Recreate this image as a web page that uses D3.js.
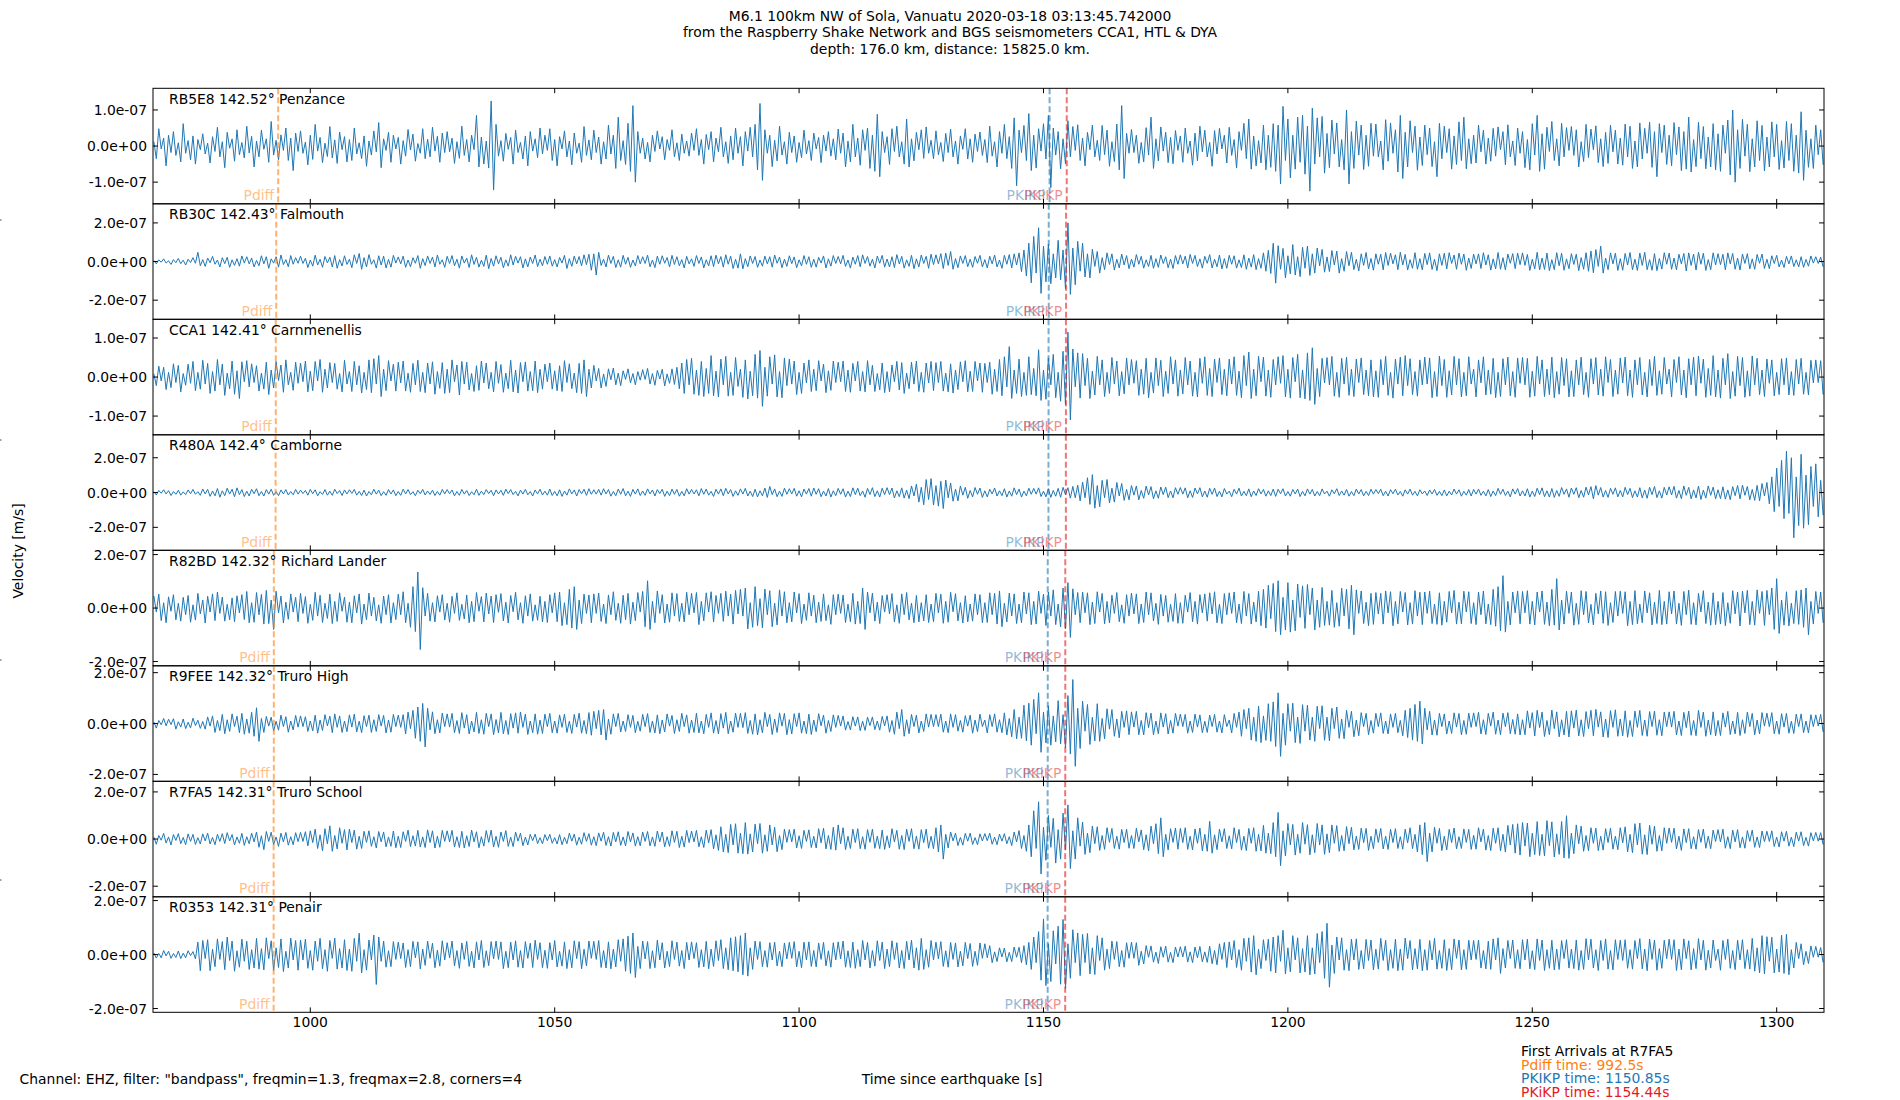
<!DOCTYPE html>
<html lang="en">
<head>
  <meta charset="utf-8">
  <title>M6.1 100km NW of Sola, Vanuatu - Raspberry Shake section</title>
  <script src="https://d3js.org/d3.v7.min.js"></script>
  <style>
    body { margin: 0; background: #fff; }
    #chart text { font-family: "DejaVu Sans", sans-serif; font-size: 13.9px; }
  </style>
</head>
<body>
<div id="chart"></div>
<script>
"use strict";

// ---- data ----
var titleLines = [
  "M6.1 100km NW of Sola, Vanuatu 2020-03-18 03:13:45.742000",
  "from the Raspberry Shake Network and BGS seismometers CCA1, HTL & DYA",
  "depth: 176.0 km, distance: 15825.0 km."
];
var stations  = ["RB5E8", "RB30C", "CCA1", "R480A", "R82BD", "R9FEE", "R7FA5", "R0353"];
var distances = ["142.52", "142.43", "142.41", "142.4", "142.32", "142.32", "142.31", "142.31"];
var places    = ["Penzance", "Falmouth", "Carnmenellis", "Camborne", "Richard Lander", "Truro High", "Truro School", "Penair"];

// half-height of each panel's y range (m/s)
var yLimits = [1.6e-7, 2.99e-7, 1.48e-7, 3.32e-7, 2.16e-7, 2.27e-7, 2.45e-7, 2.14e-7];
var yTickValues = [
  [-1e-7, 0, 1e-7], [-2e-7, 0, 2e-7], [-1e-7, 0, 1e-7], [-2e-7, 0, 2e-7],
  [-2e-7, 0, 2e-7], [-2e-7, 0, 2e-7], [-2e-7, 0, 2e-7], [-2e-7, 0, 2e-7]
];
var yTickLabels = [
  ["-1.0e-07", "0.0e+00", "1.0e-07"], ["-2.0e-07", "0.0e+00", "2.0e-07"],
  ["-1.0e-07", "0.0e+00", "1.0e-07"], ["-2.0e-07", "0.0e+00", "2.0e-07"],
  ["-2.0e-07", "0.0e+00", "2.0e-07"], ["-2.0e-07", "0.0e+00", "2.0e-07"],
  ["-2.0e-07", "0.0e+00", "2.0e-07"], ["-2.0e-07", "0.0e+00", "2.0e-07"]
];
var xLimits = [967.82, 1309.68];
var xTickValues = [1000, 1050, 1100, 1150, 1200, 1250, 1300];

// arrival times (s) per station
var pdiffTimes = [993.43, 993.03, 992.94, 992.90, 992.54, 992.54, 992.50, 992.50];
var pkikpTimes = [1151.25, 1151.08, 1151.04, 1151.02, 1150.87, 1150.87, 1150.85, 1150.85];
var pkikpReflTimes = [1154.76, 1154.62, 1154.59, 1154.58, 1154.46, 1154.46, 1154.44, 1154.44];

var arrivalNotes = ["First Arrivals at R7FA5", "Pdiff time: 992.5s", "PKIKP time: 1150.85s", "PKiKP time: 1154.44s"];
var footNote = 'Channel: EHZ, filter: "bandpass", freqmin=1.3, freqmax=2.8, corners=4';

// traces: one value every 0.5 s from 968.0 s, in nm/s
var tStart = 968.0, tStep = 0.5;

var traceRB5E8 = [
  12,-35,48,-8,22,-55,30,-18,40,-26,9,-44,62,-20,15,-38,28,-50,18,-10,
  34,-22,8,-47,26,-15,52,-30,12,-60,38,-6,20,-42,45,-24,10,-33,55,-19,
  27,-58,14,-30,44,-9,20,-45,68,-25,16,-38,31,-12,50,-40,22,-68,36,-15,
  42,-20,11,-52,30,-37,60,-14,24,-46,8,-29,54,-33,17,-48,39,-10,26,-44,
  18,-40,50,-22,9,-35,28,-56,14,-25,42,-16,65,-60,20,-12,38,-45,30,-8,
  24,-50,15,-28,46,-11,33,-42,7,-20,48,-35,19,-30,52,-14,27,-45,36,-18,
  40,-16,22,-48,12,-34,55,-26,18,-44,30,-10,85,-58,25,-50,14,-61,125,-122,
  60,-28,15,-42,35,-9,24,-50,44,-18,10,-36,28,-55,40,-14,20,-32,50,-22,
  30,-12,48,-40,18,-55,26,-8,42,-30,14,-52,36,-20,8,-45,54,-26,17,-38,
  44,-18,25,-50,12,-36,58,-22,30,-62,80,-40,15,-51,63,-70,112,-100,40,-20,
  22,-36,10,-44,30,-15,42,-8,26,-38,18,-12,45,-30,9,-40,33,-20,14,-28,
  36,-12,48,-26,18,-50,32,-10,40,-44,22,-16,52,-30,12,-48,28,-38,50,-20,
  26,-55,40,-14,52,-30,60,-66,118,-95,45,-20,30,-57,16,-41,55,-25,12,-50,
  38,-18,28,-45,10,-32,44,-22,15,-40,36,-8,24,-46,30,-14,40,-28,20,-38,
  47,-20,36,-58,14,-44,60,-30,22,-53,45,-12,50,-62,30,-70,88,-85,40,-18,
  26,-51,48,-15,55,-30,12,-50,75,-58,20,-41,38,-10,45,-34,53,-20,16,-35,
  42,-24,10,-43,35,-18,47,-30,14,-50,28,-9,48,-36,20,-45,33,-15,39,-26,
  18,-46,55,-28,12,-58,40,-20,60,-35,26,-62,78,-110,44,-18,57,-40,90,-68,
  30,-61,48,-14,62,-36,85,-115,50,-25,40,-63,20,-49,70,-30,54,-12,59,-40,
  22,-55,38,-10,58,-30,16,-40,57,-24,44,-56,12,-43,61,-66,112,-90,35,-20,
  46,-18,30,-48,10,-44,51,-25,80,-62,20,-41,53,-14,38,-46,24,-49,43,-12,
  28,-45,50,-20,14,-53,36,-41,55,-16,44,-30,10,-56,43,-22,49,-8,30,-47,
  52,-26,18,-61,40,-12,63,-35,75,-64,28,-55,15,-47,58,-66,30,-59,62,-70,
  58,-105,110,-40,75,-88,30,-64,80,-45,85,-78,55,-125,105,-50,78,-30,82,-75,
  35,-60,72,-22,64,-58,18,-66,100,-105,40,-62,69,-25,58,-65,30,-56,63,-28,
  61,-30,14,-66,73,-42,64,-20,45,-72,85,-90,38,-58,70,-18,55,-67,25,-54,
  58,-24,50,-57,12,-85,63,-35,55,-18,48,-64,28,-51,67,-40,80,-63,20,-49,
  30,-47,58,-16,44,-50,22,-42,49,-28,53,-10,40,-52,59,-30,14,-54,50,-20,
  40,-60,18,-66,62,-25,85,-70,34,-64,52,-15,68,-40,20,-55,63,-30,51,-12,
  54,-26,45,-58,12,-43,60,-32,47,-10,56,-46,20,-57,38,-48,58,-16,44,-50,
  22,-53,61,-30,55,-62,14,-58,64,-36,49,-20,66,-59,40,-85,62,-18,58,-51,
  30,-55,65,-24,53,-68,40,-64,80,-72,18,-57,66,-35,54,-63,25,-58,62,-66,
  34,-70,58,-20,72,-80,100,-100,45,-62,74,-28,60,-71,20,-58,70,-40,57,-69,
  25,-58,67,-30,60,-65,15,-61,68,-40,62,-70,30,-75,95,-95,44,-59,20,-62,
  58,-24,45,-52
];

var traceRB30C = [
  5,-12,9,-3,14,-8,4,-15,10,-6,16,-11,7,-18,12,-5,20,-9,48,-22,
  10,-25,18,-6,27,-14,8,-28,20,-11,22,-30,9,-20,15,-24,29,-8,25,-12,
  18,-28,6,-22,30,-12,25,-35,14,-8,25,-29,34,-16,10,-27,31,-14,20,-9,
  28,-10,17,-31,8,-24,33,-18,12,-30,26,-7,22,-28,31,-35,10,-23,30,-15,
  12,-32,35,-10,42,-40,20,-28,36,-14,9,-34,30,-18,28,-33,11,-29,32,-8,
  24,-12,28,-30,8,-27,20,-9,31,-35,15,-21,29,-10,23,-28,34,-14,9,-30,
  27,-10,31,-22,12,-34,29,-8,18,-31,35,-15,22,-29,7,-25,33,-37,16,-24,
  30,-12,22,-32,9,-24,35,-18,27,-8,25,-33,14,-28,23,-10,34,-26,12,-22,
  26,-14,29,-24,10,-28,21,-8,32,-36,15,-25,28,-12,26,-22,35,-16,38,-45,
  40,-70,48,-20,12,-28,33,-10,27,-31,9,-29,32,-14,22,-30,8,-23,31,-12,
  25,-10,33,-27,8,-31,28,-14,30,-9,21,-28,32,-15,25,-22,10,-33,27,-12,
  14,-25,31,-10,24,-33,9,-22,30,-26,33,-12,26,-29,35,-14,28,-36,12,-34,
  40,-38,15,-27,29,-10,26,-30,8,-24,28,-12,25,-29,34,-9,23,-32,12,-25,
  30,-11,24,-32,9,-22,31,-14,25,-30,12,-29,22,-8,29,-33,14,-24,31,-10,
  26,-12,32,-25,8,-34,23,-14,31,-27,35,-10,26,-24,12,-33,28,-9,32,-29,
  13,-28,25,-31,36,-12,27,-34,9,-25,32,-37,14,-28,34,-10,27,-35,38,-16,
  35,-12,41,-36,44,-20,52,-40,15,-32,29,-10,31,-27,12,-30,26,-9,32,-28,
  10,-33,27,-12,34,-28,8,-35,32,-14,36,-33,40,-18,45,-52,60,-75,95,-110,
  130,-60,175,-165,80,-105,90,-115,40,-85,110,-95,60,-140,200,-170,70,-120,105,-50,
  95,-80,40,-85,64,-25,52,-60,20,-42,45,-15,40,-44,12,-33,39,-18,31,-37,
  12,-29,36,-14,27,-34,9,-26,32,-35,15,-30,34,-10,25,-32,12,-36,31,-14,
  35,-12,28,-33,37,-10,32,-26,14,-34,27,-9,36,-33,12,-27,34,-38,15,-35,
  32,-14,30,-34,9,-31,35,-40,18,-29,36,-42,15,-35,45,-50,58,-62,95,-112,
  82,-40,68,-85,30,-64,88,-70,25,-78,74,-35,80,-72,40,-60,70,-22,63,-55,
  24,-52,57,-18,54,-60,15,-50,52,-22,48,-42,12,-49,40,-20,47,-38,16,-45,
  40,-14,38,-43,47,-20,44,-12,35,-42,48,-18,37,-44,10,-35,46,-40,15,-43,
  42,-16,45,-41,12,-47,40,-20,43,-38,46,-10,34,-40,44,-14,39,-45,18,-36,
  38,-12,40,-36,46,-18,35,-44,14,-38,47,-40,20,-43,39,-9,41,-37,44,-16,
  45,-20,37,-46,12,-38,48,-43,18,-41,44,-47,10,-42,46,-22,43,-45,14,-37,
  41,-15,38,-47,20,-40,46,-50,55,-58,62,-25,80,-60,18,-42,45,-12,43,-46,
  15,-45,42,-18,47,-43,12,-46,44,-20,48,-42,10,-45,41,-47,16,-39,46,-14,
  44,-40,18,-43,38,-12,42,-49,45,-20,39,-44,48,-14,43,-46,10,-42,45,-18,
  41,-16,38,-43,45,-12,42,-40,18,-44,39,-10,41,-38,14,-40,37,-9,39,-36,
  12,-37,30,-10,32,-28,8,-31,27,-12,29,-26,9,-28,25,-30,11,-24,29,-8,
  25,-10,23,-27
];

var traceCCA1 = [
  8,-22,28,-10,25,-32,12,-27,34,-14,30,-38,9,-21,33,-16,40,-35,12,-31,
  43,-18,35,-42,14,-36,45,-20,33,-47,10,-30,41,-44,16,-55,39,-12,42,-25,
  34,-14,29,-36,10,-31,38,-45,18,-28,40,-9,31,-39,44,-20,12,-34,38,-16,
  36,-12,41,-38,15,-35,40,-10,45,-39,20,-28,37,-14,35,-31,9,-38,43,-18,
  14,-37,40,-20,29,-41,12,-32,44,-40,47,-18,55,-50,20,-35,42,-10,33,-36,
  38,-15,41,-36,10,-39,35,-20,43,-37,12,-40,36,-18,39,-44,14,-29,37,-42,
  20,-40,44,-12,31,-46,40,-18,38,-33,9,-37,29,-34,41,-15,36,-30,12,-38,
  40,-16,32,-39,10,-30,43,-38,18,-41,37,-12,39,-36,14,-35,41,-40,20,-31,
  33,-12,36,-31,16,-35,29,-37,42,-14,34,-30,10,-40,35,-42,44,-50,20,-28,
  30,-10,22,-28,8,-24,21,-7,23,-20,10,-22,16,-6,21,-15,9,-20,14,-8,
  19,-6,22,-18,9,-21,17,-5,20,-23,8,-16,21,-19,25,-30,36,-42,45,-20,
  48,-44,18,-47,40,-50,22,-42,55,-48,15,-51,46,-20,53,-49,12,-47,50,-24,
  20,-52,44,-56,15,-48,58,-54,68,-75,25,-49,52,-18,57,-51,14,-53,49,-22,
  46,-18,41,-45,12,-42,36,-15,44,-37,20,-35,42,-10,33,-40,16,-34,41,-14,
  38,-12,41,-37,18,-39,35,-10,40,-36,14,-38,42,-20,30,-37,9,-33,36,-40,
  14,-38,31,-12,40,-33,37,-42,10,-30,38,-18,41,-37,12,-39,36,-15,40,-35,
  37,-14,40,-36,10,-38,34,-41,18,-32,39,-12,42,-38,15,-37,40,-10,36,-39,
  35,-14,38,-44,20,-37,45,-48,52,-25,78,-55,18,-42,46,-50,12,-47,52,-45,
  22,-48,70,-60,18,-57,49,-20,58,-53,12,-62,66,-70,115,-110,72,-25,62,-54,
  60,-22,48,-55,15,-46,53,-20,44,-50,12,-42,50,-18,41,-48,14,-43,49,-20,
  45,-16,42,-47,20,-44,48,-53,12,-41,49,-22,43,-50,15,-42,52,-18,44,-49,
  18,-43,50,-20,41,-49,12,-51,48,-16,52,-47,22,-50,46,-14,49,-45,20,-48,
  46,-18,52,-47,15,-53,55,-22,64,-55,20,-48,53,-12,51,-49,18,-52,45,-20,
  52,-16,55,-51,20,-54,50,-12,58,-53,18,-56,62,-60,75,-70,22,-50,48,-15,
  50,-20,53,-49,12,-52,48,-18,51,-47,20,-50,46,-14,49,-45,18,-48,44,-51,
  16,-52,45,-20,53,-47,12,-54,46,-18,51,-48,55,-22,47,-45,14,-49,44,-20,
  51,-18,49,-53,14,-50,54,-22,45,-52,16,-46,53,-20,47,-51,12,-48,52,-18,
  20,-51,44,-15,52,-46,18,-44,48,-53,12,-50,47,-20,51,-48,14,-52,49,-16,
  50,-20,48,-52,15,-49,53,-18,44,-50,20,-45,51,-53,14,-44,50,-22,47,-51,
  16,-50,44,-20,51,-45,12,-52,47,-18,50,-46,20,-49,52,-14,45,-50,18,-44,
  49,-15,51,-48,18,-52,44,-20,50,-46,12,-51,45,-22,53,-47,16,-44,50,-18,
  20,-51,45,-14,52,-46,18,-53,47,-20,51,-48,54,-16,46,-52,22,-47,55,-51,
  18,-54,48,-20,60,-55,14,-49,53,-22,50,-52,16,-49,54,-20,48,-45,18,-50,
  46,-16,44,-48,12,-45,47,-20,49,-46,14,-47,45,-18,48,-44,12,-46,43,-15,
  44,-14,42,-45
];

var traceR480A = [
  5,-14,12,-4,16,-8,11,-17,6,-10,13,-15,4,-12,15,-7,18,-10,5,-16,
  20,-8,18,-22,9,-19,23,-27,10,-18,25,-9,19,-24,27,-12,17,-23,8,-20,
  19,-7,22,-18,6,-20,17,-9,19,-16,5,-18,15,-8,17,-14,6,-13,18,-9,
  14,-6,12,-15,18,-7,16,-19,5,-11,17,-15,8,-16,19,-6,12,-17,15,-8,
  16,-5,18,-15,7,-17,14,-20,6,-13,19,-9,14,-18,5,-16,17,-8,15,-18,
  6,-16,19,-8,17,-12,5,-18,13,-7,18,-14,9,-11,14,-17,6,-15,18,-8,
  17,-7,15,-19,6,-16,18,-9,12,-17,5,-13,19,-16,8,-12,17,-6,13,-18,
  15,-8,13,-16,19,-6,17,-12,7,-19,14,-9,18,-13,6,-20,15,-8,19,-14,
  8,-15,20,-17,7,-19,16,-22,9,-15,21,-8,15,-20,17,-7,19,-16,22,-10,
  16,-9,18,-15,22,-8,17,-21,6,-18,20,-10,23,-19,8,-22,18,-9,21,-17,
  9,-16,21,-8,15,-20,17,-6,19,-22,8,-18,20,-10,18,-21,7,-19,22,-9,
  18,-8,16,-19,23,-10,20,-15,7,-22,19,-9,21,-18,24,-8,17,-22,10,-16,
  21,-9,24,-20,8,-23,19,-25,10,-19,26,-28,35,-12,21,-24,8,-22,25,-10,
  22,-8,24,-21,10,-25,20,-9,23,-21,26,-10,22,-24,8,-20,23,-26,10,-18,
  24,-10,22,-26,8,-23,27,-12,25,-18,9,-27,24,-11,28,-23,10,-26,25,-12,
  28,-12,26,-31,10,-24,27,-32,14,-35,38,-20,48,-55,30,-70,75,-40,80,-72,
  40,-78,65,-92,72,-30,55,-50,20,-48,38,-15,30,-33,12,-25,29,-10,26,-28,
  10,-25,19,-8,26,-20,10,-18,22,-26,9,-21,27,-12,20,-26,8,-19,25,-10,
  24,-9,27,-23,8,-25,22,-28,12,-21,24,-27,30,-12,28,-32,35,-30,42,-48,
  60,-30,85,-68,103,-90,40,-82,70,-30,75,-60,25,-55,58,-20,52,-45,18,-42,
  40,-15,38,-42,12,-33,37,-14,34,-36,10,-33,32,-12,31,-29,9,-30,28,-10,
  29,-9,27,-30,10,-28,26,-8,28,-25,9,-27,24,-10,26,-23,8,-25,23,-9,
  8,-24,19,-9,25,-20,7,-18,21,-24,9,-17,22,-8,18,-21,10,-18,20,-22,
  19,-7,22,-20,6,-21,18,-8,20,-23,7,-19,21,-9,18,-20,6,-18,21,-8,
  8,-21,16,-7,22,-17,9,-15,18,-21,6,-18,20,-8,17,-19,7,-17,19,-9,
  17,-6,19,-18,8,-20,17,-7,19,-14,6,-21,16,-9,20,-15,7,-19,16,-8,
  9,-17,15,-8,18,-16,7,-18,15,-19,8,-14,20,-9,16,-21,7,-15,17,-20,
  18,-9,20,-16,8,-19,17,-23,9,-18,24,-10,19,-17,8,-25,21,-9,23,-20,
  10,-20,22,-26,9,-23,25,-12,27,-24,10,-26,23,-28,12,-22,29,-10,21,-27,
  26,-10,28,-30,12,-27,31,-14,34,-36,40,-15,29,-26,12,-28,24,-10,27,-25,
  12,-25,30,-12,24,-29,10,-26,28,-31,14,-33,30,-12,35,-29,10,-32,30,-14,
  33,-14,36,-32,12,-35,38,-16,30,-36,15,-31,37,-40,14,-32,38,-16,31,-36,
  16,-35,33,-38,15,-41,34,-18,40,-36,43,-16,35,-42,18,-45,41,-48,52,-20,
  58,-65,90,-110,140,-80,185,-150,238,-120,200,-260,90,-190,220,-205,100,-185,150,-80,
  165,-140,70,-130
];

var traceR82BD = [
  45,-15,52,-47,20,-55,42,-12,50,-44,18,-49,40,-25,47,-53,12,-45,55,-22,
  30,-56,44,-15,53,-47,60,-20,41,-49,14,-44,38,-51,46,-18,50,-43,62,-55,
  20,-53,58,-25,51,-60,66,-58,30,-80,63,-18,45,-56,22,-42,53,-15,40,-51,
  55,-20,43,-57,14,-46,59,-30,48,-54,18,-39,52,-58,25,-50,57,-12,41,-53,
  22,-55,46,-18,53,-60,15,-44,56,-30,40,-48,12,-57,45,-25,50,-56,20,-43,
  52,-25,61,-55,18,-72,80,-88,135,-155,76,-30,55,-49,20,-52,46,-15,50,-45,
  18,-53,44,-20,57,-46,14,-41,49,-55,25,-51,58,-12,43,-52,56,-22,45,-54,
  50,-16,54,-48,22,-56,47,-14,59,-44,20,-57,46,-30,53,-49,12,-46,44,-52,
  25,-54,50,-18,57,-51,60,-66,20,-62,70,-75,80,-80,30,-58,52,-20,49,-55,
  53,-20,56,-50,15,-58,49,-25,61,-46,18,-57,48,-44,55,-60,22,-47,58,-15,
  62,-70,102,-80,25,-55,64,-20,50,-56,15,-53,57,-30,54,-50,18,-52,59,-25,
  55,-18,58,-62,25,-48,57,-15,61,-52,47,-20,55,-50,63,-30,52,-60,66,-22,
  70,-30,75,-78,20,-72,80,-66,35,-74,71,-25,65,-70,18,-63,68,-30,61,-55,
  20,-52,60,-18,54,-58,15,-46,57,-30,48,-55,22,-50,53,-47,12,-61,50,-25,
  52,-20,49,-54,15,-51,55,-60,25,-58,75,-80,60,-18,56,-49,22,-58,47,-15,
  50,-22,54,-52,12,-57,53,-25,58,-44,18,-55,47,-52,20,-48,50,-54,15,-51,
  55,-18,52,-57,25,-53,59,-14,54,-48,20,-56,46,-52,15,-49,53,-25,50,-55,
  20,-54,57,-25,55,-60,64,-70,18,-52,56,-30,53,-58,15,-55,60,-22,57,-62,
  25,-60,63,-20,52,-65,60,-30,68,-62,15,-70,75,-78,95,-110,72,-25,58,-55,
  60,-18,57,-62,22,-58,61,-15,55,-59,25,-56,48,-20,58,-51,12,-57,50,-30,
  56,-22,53,-58,15,-54,60,-25,57,-48,18,-61,51,-30,47,-53,14,-50,54,-57,
  20,-57,48,-15,58,-51,25,-60,50,-18,53,-49,57,-22,61,-55,14,-58,54,-25,
  57,-20,60,-55,15,-58,62,-30,54,-60,22,-52,63,-66,70,-75,85,-40,92,-88,
  102,-100,40,-82,95,-90,30,-85,90,-35,83,-76,88,-25,75,-82,30,-72,77,-65,
  25,-64,66,-72,20,-68,74,-30,70,-78,85,-100,68,-20,64,-58,22,-66,55,-61,
  58,-22,55,-60,64,-18,61,-66,25,-59,62,-15,58,-63,20,-60,65,-30,59,-62,
  60,-20,63,-58,15,-61,57,-64,25,-53,62,-18,66,-60,22,-59,63,-15,61,-58,
  20,-62,60,-25,64,-59,15,-62,70,-68,80,-85,121,-90,25,-63,60,-18,64,-59,
  62,-18,65,-60,25,-63,60,-15,64,-61,22,-66,70,-64,110,-82,30,-60,63,-20,
  60,-64,18,-61,65,-25,62,-56,14,-63,55,-22,64,-57,61,-65,20,-54,62,-30,
  63,-20,61,-66,25,-62,65,-59,15,-55,64,-18,57,-63,22,-58,66,-62,25,-60,
  61,-22,64,-60,18,-65,62,-25,67,-61,20,-63,55,-15,65,-58,22,-64,57,-62,
  25,-60,58,-66,20,-57,65,-22,60,-67,63,-18,66,-62,25,-64,68,-20,62,-65,
  66,-25,75,-80,110,-95,30,-64,61,-67,18,-58,65,-61,68,-72,75,-100,25,-60,
  62,-20,60,-55
];

var traceR9FEE = [
  6,-18,12,-5,20,-9,17,-4,19,-22,7,-14,18,-20,5,-17,21,-8,13,-19,
  8,-22,26,-10,30,-35,12,-28,36,-40,15,-31,38,-12,29,-36,40,-42,18,-38,
  44,-50,62,-70,20,-35,28,-10,25,-29,9,-26,33,-12,27,-34,10,-25,32,-14,
  30,-12,27,-31,10,-29,33,-38,14,-27,35,-9,29,-36,38,-15,30,-35,10,-32,
  34,-14,37,-33,9,-36,31,-12,33,-35,15,-31,35,-10,32,-37,14,-34,36,-12,
  33,-15,35,-41,45,-20,52,-58,65,-70,79,-92,60,-25,46,-40,15,-37,41,-12,
  38,-14,40,-36,12,-39,43,-18,35,-41,10,-33,44,-39,15,-42,40,-12,38,-44,
  16,-37,44,-40,12,-43,39,-18,42,-38,45,-15,37,-43,10,-36,38,-42,14,-39,
  37,-12,40,-36,10,-38,34,-15,37,-35,9,-39,36,-14,41,-38,12,-40,43,-46,
  48,-20,52,-45,55,-65,18,-42,38,-12,40,-33,10,-31,35,-15,32,-36,9,-30,
  36,-12,39,-35,10,-37,34,-40,14,-33,38,-10,32,-39,15,-31,40,-12,34,-38,
  14,-35,41,-37,10,-40,36,-15,42,-38,12,-41,39,-18,44,-40,10,-34,41,-15,
  40,-16,43,-39,12,-42,38,-45,15,-37,44,-12,36,-43,18,-35,42,-10,40,-44,
  15,-41,39,-12,42,-38,10,-40,37,-43,14,-32,39,-9,33,-38,12,-31,34,-15,
  32,-10,30,-26,8,-25,27,-10,26,-28,9,-27,25,-8,26,-24,10,-26,28,-9,
  30,-34,12,-42,45,-20,55,-50,15,-40,36,-12,33,-37,10,-31,38,-14,36,-12,
  35,-12,37,-34,10,-36,38,-15,35,-30,12,-34,31,-10,33,-38,14,-32,37,-12,
  14,-37,35,-12,38,-34,15,-36,42,-45,20,-52,55,-60,25,-58,72,-68,80,-85,
  95,-40,121,-113,45,-76,70,-85,30,-72,90,-80,35,-95,110,-120,173,-168,60,-98,
  88,-30,75,-82,25,-68,78,-70,20,-60,58,-22,55,-50,18,-56,48,-15,50,-44,
  46,-14,48,-44,12,-45,43,-16,41,-44,10,-40,42,-14,39,-41,12,-38,40,-10,
  37,-12,36,-38,10,-35,37,-14,34,-36,9,-35,33,-12,36,-34,10,-37,35,-12,
  14,-37,40,-15,45,-50,55,-20,60,-65,25,-70,68,-75,30,-66,78,-70,85,-90,
  121,-129,40,-85,78,-30,80,-75,25,-78,74,-30,72,-65,25,-70,68,-20,70,-66,
  25,-68,60,-20,65,-58,18,-60,52,-15,48,-52,14,-48,43,-12,40,-44,12,-38,
  40,-12,42,-39,10,-41,38,-15,40,-36,12,-48,52,-55,60,-65,75,-70,88,-80,
  60,-25,48,-45,14,-46,40,-12,38,-41,10,-39,42,-14,40,-44,12,-42,41,-15,
  42,-12,44,-41,15,-43,40,-10,45,-42,14,-44,41,-12,43,-40,16,-42,38,-45,
  15,-44,50,-18,43,-49,52,-16,45,-51,12,-44,53,-20,46,-52,15,-45,48,-53,
  50,-18,53,-49,15,-51,47,-20,52,-48,56,-14,46,-53,18,-55,51,-15,54,-50,
  18,-48,50,-54,12,-51,49,-15,52,-47,14,-50,47,-12,49,-46,15,-48,45,-12,
  46,-14,48,-45,10,-47,44,-16,49,-46,12,-48,52,-15,45,-50,14,-44,46,-49,
  12,-47,42,-14,48,-43,10,-41,44,-47,15,-39,45,-12,40,-44,14,-41,43,-10,
  41,-12,43,-40,10,-42,39,-14,40,-38,9,-39,37,-12,38,-36,10,-37,35,-12,
  34,-10,36,-33
];

var traceR7FA5 = [
  8,-22,15,-5,24,-17,9,-25,19,-6,23,-20,7,-24,22,-10,20,-23,6,-21,
  22,-8,25,-21,7,-24,20,-10,23,-19,27,-8,19,-25,9,-18,24,-27,10,-20,
  25,-12,30,-35,14,-45,32,-10,29,-24,9,-31,25,-12,28,-26,10,-24,27,-11,
  28,-10,31,-29,35,-15,42,-40,18,-50,44,-20,56,-52,15,-42,48,-18,40,-46,
  42,-15,38,-43,12,-40,33,-14,35,-31,10,-38,32,-12,30,-33,9,-31,34,-37,
  12,-36,31,-10,38,-32,14,-30,37,-34,9,-36,39,-15,35,-38,12,-35,37,-10,
  35,-12,37,-34,10,-36,33,-38,14,-32,38,-12,31,-37,10,-30,36,-14,38,-34,
  12,-35,30,-10,36,-31,8,-32,30,-9,25,-28,8,-25,20,-7,21,-19,6,-20,
  19,-7,20,-18,6,-21,19,-24,8,-20,25,-9,21,-26,8,-22,27,-10,23,-26,
  10,-28,26,-9,29,-27,10,-30,28,-12,31,-27,9,-29,32,-12,26,-30,10,-29,
  30,-10,32,-29,9,-31,34,-12,30,-33,10,-31,35,-14,33,-36,12,-34,37,-15,
  34,-12,37,-33,10,-36,38,-16,40,-42,18,-48,52,-55,20,-58,62,-25,65,-60,
  25,-62,70,-64,22,-55,63,-20,66,-60,18,-52,60,-25,50,-54,15,-45,42,-14,
  40,-12,42,-38,14,-40,37,-10,39,-36,12,-38,44,-16,46,-42,15,-44,50,-47,
  60,-20,48,-45,12,-40,42,-15,44,-41,10,-43,40,-14,42,-39,12,-41,38,-44,
  14,-38,44,-12,37,-43,15,-45,42,-10,44,-41,12,-43,40,-15,42,-39,12,-41,
  48,-55,60,-85,20,-38,30,-8,25,-28,7,-26,24,-9,25,-23,6,-24,22,-8,
  23,-7,25,-22,8,-24,21,-9,23,-20,10,-28,30,-12,36,-40,15,-52,60,-75,
  120,-40,158,-148,50,-90,100,-35,88,-102,40,-85,110,-45,145,-125,35,-85,90,-30,
  72,-65,25,-58,55,-20,52,-48,15,-44,48,-14,45,-40,12,-43,41,-15,42,-39,
  15,-40,46,-12,39,-45,18,-50,55,-20,65,-62,90,-75,20,-46,44,-14,47,-43,
  45,-15,48,-44,12,-46,43,-18,47,-50,20,-52,75,-60,18,-45,42,-12,44,-40,
  14,-42,48,-15,41,-47,12,-49,45,-18,48,-52,20,-50,58,-60,25,-62,70,-75,
  113,-113,35,-72,66,-25,62,-68,20,-60,70,-22,61,-67,18,-58,66,-25,60,-65,
  22,-58,60,-18,57,-52,15,-50,53,-20,50,-46,12,-44,46,-15,45,-48,12,-41,
  43,-14,45,-42,12,-44,41,-15,44,-40,10,-43,42,-16,48,-41,20,-55,60,-66,
  70,-96,25,-55,50,-18,45,-49,12,-46,41,-15,47,-42,10,-40,43,-14,41,-44,
  16,-43,48,-12,42,-47,15,-49,46,-18,48,-50,20,-55,58,-25,62,-60,65,-68,
  70,-30,68,-75,25,-66,74,-70,20,-72,78,-28,73,-76,22,-65,74,-80,99,-82,
  25,-62,60,-20,55,-52,15,-50,48,-18,46,-49,12,-47,44,-15,46,-43,12,-45,
  48,-16,52,-55,20,-58,65,-25,68,-64,18,-66,58,-22,55,-52,15,-50,48,-18,
  47,-14,46,-42,12,-48,43,-15,44,-41,10,-43,40,-14,42,-39,12,-41,38,-10,
  40,-12,42,-39,10,-41,38,-12,40,-37,9,-39,36,-10,38,-35,9,-36,34,-11,
  33,-10,35,-32,8,-34,31,-9,33,-30,8,-32,29,-9,31,-28,7,-30,27,-8,
  28,-9,27,-23
];

var traceR0353 = [
  6,-13,4,-12,15,-5,12,-14,4,-11,13,-15,5,-12,14,-4,11,-16,46,-60,
  52,-15,55,-60,20,-45,58,-18,48,-56,65,-22,50,-62,14,-47,57,-25,49,-55,
  18,-50,60,-54,22,-57,62,-15,51,-59,25,-48,58,-63,12,-50,61,-20,52,-58,
  54,-20,57,-51,15,-58,50,-25,60,-53,18,-62,52,-14,61,-54,22,-50,55,-59,
  20,-62,60,-25,79,-68,18,-58,54,-20,72,-111,65,-25,50,-47,14,-45,48,-18,
  46,-15,43,-48,18,-45,49,-12,47,-53,20,-40,50,-14,42,-49,16,-43,51,-20,
  44,-12,50,-42,15,-51,43,-18,49,-44,12,-50,47,-20,52,-48,14,-41,48,-16,
  50,-18,47,-52,12,-49,46,-20,51,-47,15,-50,48,-14,42,-48,53,-18,44,-49,
  16,-51,44,-20,52,-46,12,-43,47,-52,18,-49,51,-15,48,-53,20,-42,50,-14,
  49,-18,52,-48,15,-50,47,-53,20,-46,55,-25,58,-62,68,-70,80,-85,30,-52,
  50,-16,48,-52,14,-49,53,-20,44,-50,12,-45,51,-18,46,-43,15,-52,45,-20,
  47,-15,44,-48,18,-46,49,-53,20,-44,51,-22,55,-52,25,-56,62,-60,66,-64,
  70,-75,80,-80,25,-55,50,-18,48,-45,15,-47,44,-20,46,-42,12,-45,43,-16,
  45,-14,48,-46,12,-49,46,-20,47,-44,15,-46,43,-18,45,-42,14,-47,44,-20,
  47,-16,50,-47,14,-48,46,-51,18,-45,52,-20,45,-50,15,-43,51,-22,46,-52,
  20,-45,51,-18,44,-50,15,-52,49,-20,53,-50,25,-58,60,-55,18,-47,52,-20,
  46,-16,48,-44,14,-47,45,-18,43,-46,12,-42,45,-15,41,-44,12,-40,43,-14,
  40,-12,33,-30,10,-26,25,-9,24,-27,8,-26,28,-10,27,-30,33,-38,45,-55,
  65,-30,85,-95,132,-115,40,-100,88,-35,105,-110,130,-125,40,-88,92,-30,80,-78,
  75,-30,78,-72,25,-74,70,-22,62,-58,20,-52,50,-18,48,-45,15,-47,44,-14,
  46,-14,44,-40,12,-35,33,-10,32,-28,9,-33,29,-10,31,-28,8,-30,28,-9,
  29,-9,31,-28,10,-30,28,-12,30,-27,10,-29,31,-34,15,-38,40,-18,45,-48,
  47,-20,52,-48,18,-58,60,-25,62,-65,70,-75,20,-52,55,-22,57,-62,65,-68,
  70,-25,90,-72,25,-64,70,-20,62,-68,22,-65,70,-75,25,-72,78,-30,85,-88,
  116,-121,35,-70,65,-20,62,-58,18,-60,57,-20,58,-55,15,-53,56,-22,54,-57,
  20,-54,60,-22,53,-59,18,-51,57,-60,20,-58,61,-15,52,-57,22,-53,56,-60,
  18,-58,52,-20,60,-54,15,-51,55,-59,22,-56,58,-14,54,-57,18,-55,53,-20,
  52,-18,54,-50,15,-53,49,-55,58,-20,62,-70,22,-50,52,-15,54,-51,18,-53,
  55,-20,57,-53,14,-56,58,-22,54,-59,18,-51,53,-57,20,-55,52,-15,55,-50,
  20,-52,54,-58,15,-55,59,-20,57,-50,18,-59,52,-22,58,-54,15,-57,55,-18,
  53,-22,55,-51,18,-54,52,-15,59,-53,20,-60,57,-18,54,-58,22,-51,53,-15,
  57,-18,55,-59,20,-56,58,-15,51,-57,22,-52,59,-20,53,-58,16,-50,54,-22,
  20,-58,52,-18,57,-51,15,-56,53,-20,55,-52,18,-54,60,-62,25,-68,70,-72,
  66,-25,64,-68,20,-65,72,-70,75,-75,18,-50,45,-15,40,-38,12,-33,32,-10,
  30,-10,26,-29
];

var traces = [traceRB5E8, traceRB30C, traceCCA1, traceR480A, traceR82BD, traceR9FEE, traceR7FA5, traceR0353];

// ---- drawing ----
function desenhaGrafico() {
  var larguraSVG = 1900, alturaSVG = 1100;
  var plotLeft = 153, plotRight = 1824, plotTop = 88.3, panelH = 115.5;
  var tickLen = 4.9;

  var svg = d3.select('#chart').append('svg')
      .attr('width', larguraSVG)
      .attr('height', alturaSVG);

  // titulo
  svg.append('g').selectAll('text')
    .data(titleLines)
    .enter().append('text')
      .attr('x', 950)
      .attr('y', (d, i) => 20.7 + i * 16.7)
      .attr('text-anchor', 'middle')
      .text(d => d);

  var x = d3.scaleLinear().domain(xLimits).range([plotLeft, plotRight]);

  var phases = [
    {name: 'Pdiff', times: pdiffTimes, color: '#ff7f0e'},
    {name: 'PKIKP', times: pkikpTimes, color: '#1f77b4'},
    {name: 'PKiKP', times: pkikpReflTimes, color: '#e41a1c'}
  ];

  stations.forEach(function(st, i) {
    var g = svg.append('g')
        .attr('transform', 'translate(0,' + (plotTop + i * panelH) + ')');
    var y = d3.scaleLinear().domain([-yLimits[i], yLimits[i]]).range([panelH, 0]);

    g.append('clipPath').attr('id', 'clip' + i)
      .append('rect')
        .attr('x', plotLeft).attr('y', 0)
        .attr('width', plotRight - plotLeft).attr('height', panelH);

    var linha = d3.line()
        .x((d, j) => x(tStart + j * tStep))
        .y(d => y(d * 1e-9));

    g.append('path')
        .datum(traces[i])
        .attr('clip-path', 'url(#clip' + i + ')')
        .attr('d', linha)
        .attr('fill', 'none')
        .attr('stroke', '#1f77b4')
        .attr('stroke-width', 1)
        .attr('stroke-linejoin', 'round');

    // chegadas
    phases.forEach(function(ph) {
      var px = x(ph.times[i]);
      g.append('line')
          .attr('x1', px).attr('x2', px)
          .attr('y1', 0).attr('y2', panelH)
          .attr('stroke', ph.color)
          .attr('stroke-opacity', 0.6)
          .attr('stroke-width', 2)
          .attr('stroke-dasharray', '6,3');
      g.append('text')
          .attr('x', px - 4)
          .attr('y', panelH - 3.5)
          .attr('text-anchor', 'end')
          .attr('fill', ph.color)
          .attr('fill-opacity', 0.5)
          .text(ph.name);
    });

    // nome da estacao
    g.append('text')
        .attr('x', plotLeft + 16)
        .attr('y', 15.5)
        .text(st + ' ' + distances[i] + '\u00b0 ' + places[i]);

    // ticks do eixo y (para dentro, dos dois lados)
    yTickValues[i].forEach(function(v, k) {
      var py = y(v);
      g.append('line').attr('x1', plotLeft).attr('x2', plotLeft + tickLen)
          .attr('y1', py).attr('y2', py).attr('stroke', '#000').attr('stroke-width', 1);
      g.append('line').attr('x1', plotRight - tickLen).attr('x2', plotRight)
          .attr('y1', py).attr('y2', py).attr('stroke', '#000').attr('stroke-width', 1);
      g.append('text')
          .attr('x', plotLeft - 6)
          .attr('y', py)
          .attr('dy', '0.36em')
          .attr('text-anchor', 'end')
          .text(yTickLabels[i][k]);
    });

    // ticks do eixo x em cima e embaixo
    xTickValues.forEach(function(v) {
      var px = x(v);
      g.append('line').attr('x1', px).attr('x2', px).attr('y1', 0).attr('y2', tickLen)
          .attr('stroke', '#000').attr('stroke-width', 1);
      g.append('line').attr('x1', px).attr('x2', px).attr('y1', panelH - tickLen).attr('y2', panelH)
          .attr('stroke', '#000').attr('stroke-width', 1);
    });

    g.append('rect')
        .attr('x', plotLeft).attr('y', 0)
        .attr('width', plotRight - plotLeft).attr('height', panelH)
        .attr('fill', 'none')
        .attr('stroke', '#000')
        .attr('stroke-width', 1);
  });

  // rotulos do eixo x
  var plotBottom = plotTop + stations.length * panelH;
  svg.append('g').selectAll('text')
    .data(xTickValues)
    .enter().append('text')
      .attr('x', d => x(d))
      .attr('y', plotBottom + 15)
      .attr('text-anchor', 'middle')
      .text(d => d);

  // marquinhas do eixo externo na borda esquerda
  [220, 440, 660, 880].forEach(function(py) {
    svg.append('line').attr('x1', 0).attr('x2', 1.5).attr('y1', py).attr('y2', py)
        .attr('stroke', '#444').attr('stroke-width', 1);
  });

  svg.append('text')
      .attr('transform', 'translate(18,551) rotate(-90)')
      .attr('text-anchor', 'middle')
      .attr('dy', '0.36em')
      .text('Velocity [m/s]');

  svg.append('text')
      .attr('x', 952).attr('y', 1084)
      .attr('text-anchor', 'middle')
      .text('Time since earthquake [s]');

  svg.append('text')
      .attr('x', 19.6).attr('y', 1084)
      .text(footNote);

  var noteColors = ['#000', '#ff7f0e', '#1f77b4', '#e41a1c'];
  svg.append('g').selectAll('text')
    .data(arrivalNotes)
    .enter().append('text')
      .attr('x', 1521)
      .attr('y', (d, i) => 1056 + i * 13.6)
      .attr('fill', (d, i) => noteColors[i])
      .text(d => d);
}

desenhaGrafico();
</script>
</body>
</html>
